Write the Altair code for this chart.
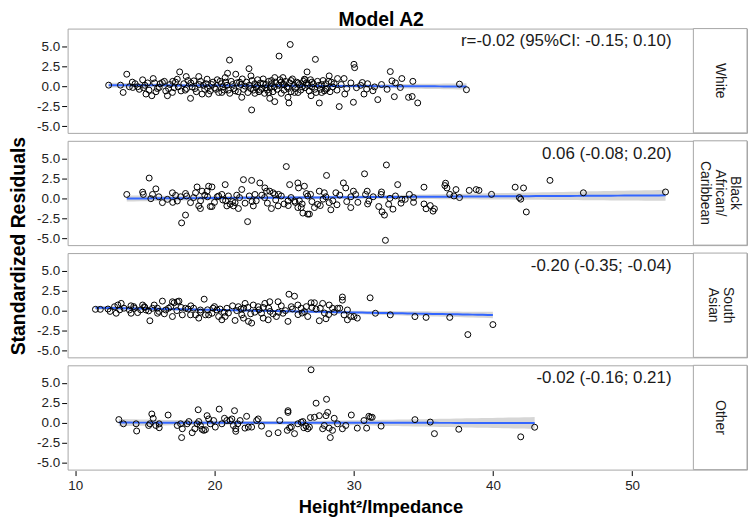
import altair as alt
import numpy as np
import pandas as pd

# ---------------- data ----------------
groups = ["White", "Black African/Caribbean", "South Asian", "Other"]
strip_labels = ["White", "Black\nAfrican/\nCaribbean", "South\nAsian", "Other"]
annotations = [
    "r=-0.02 (95%CI: -0.15; 0.10)",
    "0.06 (-0.08; 0.20)",
    "-0.20 (-0.35; -0.04)",
    "-0.02 (-0.16; 0.21)",
]
x_ticks = [10, 20, 30, 40, 50]
y_ticks = [-5.0, -2.5, 0.0, 2.5, 5.0]

white_pts = [
    (12.40, 0.12), (13.25, 0.12), (13.70, 1.49), (13.44, -0.79), (13.89, -0.08), (14.13, -0.17),
    (14.48, -0.08), (14.84, 0.79), (15.08, -0.99), (15.50, -1.20), (15.60, 0.95), (16.03, -0.17),
    (16.26, 0.45), (16.62, -1.20), (16.98, -0.79), (17.50, 1.78), (17.33, 0.87), (17.97, 1.20),
    (18.28, -1.53), (18.52, 0.66), (18.87, 1.20), (19.11, -0.99), (19.47, 0.87), (19.58, -0.99),
    (21.08, 3.26), (20.94, 1.61), (20.77, 1.07), (21.53, 1.49), (20.53, -0.79), (21.96, -1.40),
    (22.48, 2.19), (22.67, -2.98), (22.62, 1.28), (23.97, -1.53), (24.33, -1.94), (24.64, 3.76),
    (24.33, 1.07), (24.92, 1.07), (25.44, 5.21), (25.28, -1.40), (25.35, -2.11), (25.75, -0.79),
    (26.65, 1.78), (27.25, 3.35), (26.46, 0.87), (26.94, -1.20), (27.53, -2.11), (28.24, 1.28),
    (28.84, 0.95), (28.96, -2.56), (29.31, 0.95), (29.36, -0.99), (29.98, -2.02), (30.02, 2.73),
    (30.07, 2.31), (30.62, 0.45), (30.74, -0.99), (30.93, -0.37), (31.38, -0.58), (31.73, -1.69),
    (32.63, 1.82), (32.75, 0.66), (32.92, -1.32), (33.46, 0.95), (33.35, -0.17), (33.94, -1.40),
    (34.25, 0.60), (34.20, -1.30), (34.60, -2.10), (37.60, 0.25), (38.10, -0.45),
    (14.3, 0.3), (14.6, -0.4), (15.0, 0.1), (15.3, -0.5), (15.7, 0.4), (15.9, -0.3), (16.4, 0.6),
    (16.5, -0.6), (16.8, 0.2), (17.1, -0.2), (17.2, 0.5), (17.6, -0.6), (17.8, 0.3), (18.0, -0.3),
    (18.1, 0.7), (18.4, -0.1), (18.7, -0.7), (18.9, 0.2), (19.0, 0.6), (19.3, -0.4), (19.4, 0.3),
    (19.7, -0.6), (19.9, 0.5), (20.0, -0.2), (20.2, 0.8), (20.3, -0.8), (20.5, 0.3), (20.7, -0.5),
    (20.9, 0.1), (21.1, -0.9), (21.2, 0.6), (21.4, -0.3), (21.6, 0.4), (21.7, -0.7), (21.9, 0.2),
    (22.0, 0.9), (22.1, -0.4), (22.3, 0.5), (22.4, -0.8), (22.5, 0.1), (22.7, 0.7), (22.8, -0.5),
    (22.9, 0.3), (23.0, -0.1), (23.1, 0.8), (23.2, -0.7), (23.3, 0.4), (23.4, -0.3), (23.5, 0.9),
    (23.6, -0.9), (23.7, 0.2), (23.8, -0.5), (23.9, 0.6), (24.0, -0.2), (24.1, 0.3), (24.2, -0.7),
    (24.4, 0.5), (24.5, -0.4), (24.7, 0.8), (24.8, -0.9), (24.9, 0.2), (25.0, -0.5), (25.1, 0.6),
    (25.2, -0.1), (25.4, 0.4), (25.5, -0.7), (25.6, 0.9), (25.8, -0.3), (25.9, 0.5), (26.0, -0.8),
    (26.1, 0.2), (26.2, -0.5), (26.4, 0.6), (26.5, -0.2), (26.6, 0.4), (26.8, -0.6), (26.9, 0.8),
    (27.0, -0.1), (27.1, 0.3), (27.3, -0.8), (27.4, 0.6), (27.6, -0.4), (27.7, 0.2), (27.8, 0.7),
    (27.9, -0.6), (28.0, 0.3), (28.1, -0.3), (28.3, -0.7), (28.4, 0.5), (28.5, -0.1),
    (14.1, 0.5), (14.9, -0.2), (15.2, 0.4), (15.8, -0.7), (16.1, 0.3), (16.7, -0.3), (17.0, 0.6),
    (17.4, -0.1), (17.9, -0.5), (18.3, 0.4), (18.6, -0.3), (19.2, 0.1), (19.5, -0.2), (19.8, 0.2),
    (20.1, -0.4), (20.4, 0.6), (20.6, -0.1), (20.8, 0.5), (21.0, -0.5), (21.3, 0.2), (21.5, -0.6),
    (21.8, 0.5), (22.2, 0.0), (22.6, -0.3), (22.9, -0.9), (23.1, 0.1), (23.3, -0.5), (23.5, 0.3),
    (23.7, -0.2), (23.9, -0.8), (24.1, 0.7), (24.3, -0.1), (24.6, 0.1), (24.8, 0.5), (25.0, 0.2),
    (25.3, -0.3), (25.5, 0.7), (25.7, 0.1), (26.0, 0.4), (26.3, -0.1), (26.5, 0.8), (26.7, 0.1),
    (27.0, 0.5), (27.2, -0.4), (27.5, 0.1), (27.7, -0.8), (28.0, -0.4), (28.2, 0.6), (28.6, 0.3),
    (28.8, -0.5), (29.1, 0.2), (29.5, -0.3), (29.8, 0.4), (30.2, -0.2), (30.5, 0.1), (31.0, 0.3),
    (31.5, -0.1), (32.0, 0.2), (32.4, -0.4), (33.0, 0.4),
]

black_pts = [
    (13.70, 0.49), (15.31, 2.54), (14.84, 0.78), (14.89, 0.49), (15.55, 0.49), (15.79, 1.19),
    (15.43, -0.04), (16.26, -0.53), (16.62, -0.12), (16.98, 0.70), (17.21, 0.37), (17.33, -0.33),
    (17.57, 0.20), (17.64, -3.07), (17.92, -2.09), (17.92, 0.61), (18.28, -0.53), (18.64, 0.70),
    (18.75, 1.43), (18.87, -0.94), (18.99, -1.27), (19.11, 0.90), (19.47, 0.90), (19.58, 1.52),
    (19.82, 1.43), (19.70, -1.02), (19.82, -1.02), (20.30, 0.29), (20.53, 0.49), (20.77, 1.72),
    (20.89, -0.94), (21.13, -0.74), (21.36, -0.94), (21.48, -0.53), (21.72, -1.27), (22.08, 2.34),
    (22.67, 2.25), (21.96, 1.11), (22.38, -2.91), (22.79, -0.94), (22.91, 0.49), (23.26, 1.93),
    (23.62, 1.31), (23.74, 0.90), (23.97, 0.90), (24.21, 0.70), (24.09, -1.27), (24.57, -0.94),
    (24.33, 0.49), (25.16, 3.98), (25.40, 1.72), (25.99, 1.93), (26.04, 1.31), (26.46, 1.52),
    (25.28, -0.33), (25.75, -0.33), (25.99, -1.15), (26.23, -1.15), (26.35, -1.84), (26.70, -1.97),
    (26.82, -1.97), (26.70, 0.29), (27.18, -1.15), (27.41, -0.74), (27.53, 0.90), (27.89, 0.70),
    (28.05, 2.87), (28.24, -0.53), (28.36, -1.43), (28.72, 0.70), (29.26, 1.93), (29.43, 1.31),
    (29.79, -1.15), (29.98, 0.90), (30.14, 0.49), (30.78, 3.07), (30.97, 0.90), (30.85, 0.49),
    (31.09, -0.33), (31.80, -1.02), (31.97, 0.49), (32.04, -1.68), (32.21, -2.09), (32.35, 4.18),
    (32.51, -0.74), (32.82, -1.35), (33.16, 1.72), (32.28, -5.25), (33.46, -0.12), (33.70, -0.12),
    (35.05, 1.40), (35.05, -0.70), (35.20, -1.30), (35.50, -0.90), (35.80, -1.30), (35.70, -1.60),
    (34.30, -0.50), (34.30, 0.10), (36.60, 1.90), (36.55, 1.60), (36.70, 1.30), (36.90, 0.50),
    (37.35, 1.10), (37.20, 0.30), (37.60, 0.10), (38.30, 1.00), (38.80, 1.10), (39.00, 1.00),
    (39.90, 0.50), (41.60, 1.40), (42.20, 1.30), (41.90, 0.10), (42.00, -0.10), (42.40, -1.70),
    (44.10, 2.25), (46.50, 0.70), (52.40, 0.80),
    (18.5, 0.1), (19.0, -0.3), (19.3, 0.4), (20.0, -0.5), (20.2, 0.2), (20.6, -0.2), (21.0, 0.3),
    (21.3, -0.4), (21.8, 0.1), (22.2, -0.6), (22.5, 0.3), (23.0, -0.3), (23.4, 0.4), (23.8, -0.6),
    (24.4, -0.2), (24.8, 0.3), (25.0, -0.7), (25.5, 0.1), (25.8, -0.5), (26.3, -0.7), (26.6, 0.6),
    (27.0, -0.4), (27.6, -0.9), (28.0, 0.2), (28.5, -0.3), (29.0, 0.4), (29.5, -0.4), (30.3, -0.5),
    (31.4, 0.2), (33.0, 0.3),
    (16.0, 0.2), (17.0, -0.5), (18.0, 0.3), (19.5, 0.2), (20.8, -0.3), (21.6, 0.4), (22.7, -0.4),
    (23.6, 0.1), (24.6, 0.5), (25.3, -0.9), (26.1, -0.3), (26.9, 0.5), (27.8, -0.1), (28.8, -0.8),
    (29.8, 0.2), (31.0, -0.7), (32.0, 0.8), (32.6, 0.0), (33.4, -0.6), (34.0, 0.5),
]

south_asian_pts = [
    (11.45, 0.16), (11.80, 0.16), (12.35, 0.20), (12.82, 0.49), (12.94, -0.33), (13.06, 0.70),
    (13.30, 0.90), (13.89, 0.08), (14.01, -0.33), (14.25, 0.29), (14.48, -0.25), (14.84, 0.70),
    (14.96, 0.49), (15.08, 0.08), (15.27, -0.04), (15.36, -1.27), (15.55, 0.29), (15.67, 0.70),
    (15.91, -0.33), (16.26, 1.19), (16.50, 0.08), (16.86, 0.49), (16.98, 1.11), (17.10, 0.98),
    (17.33, 1.11), (17.45, 1.19), (16.98, -0.74), (17.69, -0.53), (17.92, 0.29), (18.28, -0.53),
    (18.64, -0.53), (18.87, -0.94), (18.99, 0.08), (19.26, 1.43), (19.35, -0.53), (19.58, -0.53),
    (19.82, -0.33), (20.18, 0.08), (20.30, -0.74), (20.53, -1.15), (20.77, -0.74), (20.89, 0.29),
    (21.48, -1.23), (21.72, 0.49), (21.96, -0.53), (22.08, -0.94), (22.20, 0.90), (22.44, -1.35),
    (22.67, -1.56), (22.79, 0.70), (23.14, 0.49), (23.38, -0.33), (23.50, -0.94), (23.62, 0.90),
    (23.86, -1.15), (23.97, 1.11), (24.45, -0.74), (24.57, 1.11), (24.92, -0.33), (25.28, -1.35),
    (25.35, 2.05), (25.75, 1.80), (25.52, 0.49), (25.99, 0.70), (26.23, 0.29), (26.46, -0.12),
    (26.70, -0.74), (26.94, 0.98), (27.18, 0.98), (27.53, -1.27), (27.77, 0.90), (28.01, -1.02),
    (28.24, 0.70), (28.48, 0.29), (28.84, 0.29), (29.19, 1.70), (29.19, 1.31), (29.31, -0.53),
    (29.55, -1.15), (29.79, -0.74), (30.02, -0.74), (30.26, -0.94), (29.55, 0.08), (31.18, 1.60),
    (31.56, -0.33), (32.63, -0.53), (34.40, -0.75), (35.20, -0.85), (36.90, -0.85), (38.20, -3.00),
    (40.00, -1.75),
    (13.5, 0.3), (14.2, 0.5), (14.7, 0.1), (15.9, 0.3), (16.4, -0.4), (17.6, 0.4), (18.1, 0.2),
    (18.5, 0.3), (19.0, -0.2), (19.9, 0.3), (20.4, 0.2), (21.0, -0.3), (21.3, 0.6), (21.9, 0.2),
    (22.4, 0.4), (22.9, -0.2), (23.2, 0.1), (23.9, 0.3), (24.2, -0.4), (24.8, 0.6), (25.1, 0.0),
    (26.0, -0.5), (26.6, 0.5), (27.3, 0.2), (27.9, -0.3), (28.6, -0.2),
    (12.5, -0.1), (13.2, 0.1), (14.0, 0.6), (15.0, 0.4), (16.0, -0.1), (16.7, 0.3), (17.3, 0.0),
    (18.3, 0.6), (19.5, 0.1), (20.0, 0.5), (20.7, -0.2), (21.6, 0.0), (22.1, 0.3), (22.6, -0.4),
    (23.5, 0.4), (24.0, -0.1), (24.6, -0.2), (25.6, 0.2), (26.3, -0.3), (27.0, 0.4), (27.6, 0.3),
    (28.2, -0.5), (29.0, 0.3),
]

other_pts = [
    (13.13, 0.41), (13.46, -0.12), (14.37, -0.12), (14.41, -1.02), (15.27, -0.33), (15.36, -0.12),
    (15.50, 1.11), (15.60, 0.57), (15.79, -0.33), (16.03, -0.61), (16.03, -0.12), (16.67, 0.98),
    (17.33, -0.33), (17.57, -0.12), (17.64, -1.84), (17.69, -0.74), (18.04, -0.12), (18.16, 0.16),
    (18.40, -1.23), (18.59, -0.74), (18.75, -0.12), (18.83, 1.64), (18.87, 0.16), (18.99, -0.33),
    (19.11, -0.82), (19.23, -0.94), (19.35, -0.86), (19.47, 0.90), (19.58, 0.49), (19.70, -0.12),
    (19.94, 0.29), (20.06, -0.53), (20.34, 1.72), (20.53, -0.12), (20.72, 0.57), (20.89, 0.29),
    (21.13, 0.29), (21.25, 0.49), (21.36, -0.33), (21.44, 1.52), (21.53, -1.06), (21.53, -0.74),
    (21.67, -0.12), (21.84, 0.29), (22.19, -0.66), (22.31, 0.82), (22.43, -0.53), (22.67, -0.53),
    (23.03, 0.29), (23.14, 0.49), (23.38, -0.41), (23.90, -1.35), (24.57, -1.23), (24.69, 0.29),
    (25.28, 1.52), (25.28, 1.31), (25.23, -0.94), (25.40, -0.61), (25.52, -0.53), (25.75, -1.35),
    (25.99, -0.12), (26.23, 0.08), (26.35, 0.16), (26.42, -0.61), (26.58, -0.41), (26.70, -0.74),
    (26.82, -0.53), (26.94, 6.64), (26.89, 0.66), (27.30, 2.46), (27.18, 0.70), (27.53, 0.90),
    (27.77, -0.74), (27.89, -0.33), (28.05, 2.95), (28.01, 0.90), (28.13, 1.31), (28.24, -0.66),
    (28.32, -1.84), (28.48, -0.94), (28.60, 0.57), (28.84, -0.12), (29.19, -0.74), (29.43, -0.33),
    (29.83, 0.98), (30.26, -0.66), (30.93, -0.66), (30.74, 0.29), (31.09, 0.82), (31.21, 0.70),
    (31.33, 0.70), (31.97, -0.41), (34.40, 0.40), (35.50, 0.10), (35.80, -1.35), (37.55, -0.80),
    (42.00, -1.75), (43.00, -0.55),
]

group_points = [white_pts, black_pts, south_asian_pts, other_pts]
y_title = "Standardized Residuals"
x_title = "Height²/Impedance"
main_title = "Model A2"

# ---------------- table for the chart ----------------
rows = []
for g, lab, ann, pts in zip(groups, strip_labels, annotations, group_points):
    arr = np.array(pts, dtype=float)
    xs, ys = arr[:, 0], arr[:, 1]
    for xv, yv in pts:
        rows.append({"group": g, "kind": "pt", "x": xv, "y": yv})
    # linear fit with 95% confidence band (as geom_smooth(method="lm"))
    n = len(xs)
    b, a = np.polyfit(xs, ys, 1)
    resid = ys - (a + b * xs)
    s = np.sqrt(np.sum(resid ** 2) / (n - 2))
    sxx = np.sum((xs - xs.mean()) ** 2)
    grid = np.linspace(xs.min(), xs.max(), 80)
    fit = a + b * grid
    se = s * np.sqrt(1.0 / n + (grid - xs.mean()) ** 2 / sxx)
    for gx, fv, sv in zip(grid, fit, se):
        rows.append({"group": g, "kind": "fit", "x": gx, "fit": fv,
                     "lo": fv - 1.97 * sv, "hi": fv + 1.97 * sv})
    rows.append({"group": g, "kind": "lab", "label": lab, "ann": ann,
                 "nlines": lab.count("\n") + 1})

df = pd.DataFrame(rows)

# ---------------- layout ----------------
W_PLOT = 630
W_STRIP = 54
H = 105
SPACING = 6
LH = 15
FONT = "Liberation Sans, Arial, Helvetica, sans-serif"

x_scale = alt.Scale(domain=[9.45, 54.4], range=[0, W_PLOT], nice=False, zero=False)
y_scale = alt.Scale(domain=[-5.85, 7.2], nice=False, zero=False)

x_axis = alt.Axis(values=x_ticks, domain=False, grid=False, ticks=True, tickColor="black",
                  tickSize=5, labelFontSize=13.5, labelColor="#222222", labelFont=FONT,
                  labelPadding=3, title=x_title, titleFontSize=18.5,
                  titleFontWeight="bold", titleFont=FONT, titleColor="black", titlePadding=6)
y_axis = alt.Axis(values=y_ticks, domain=False, grid=False, ticks=True, tickColor="black",
                  tickSize=5, labelFontSize=13.5, labelColor="#222222", labelFont=FONT,
                  labelPadding=2, title=None,
                  labelExpr="datum.value < 0 ? '-' + format(-datum.value, '.1f') : format(datum.value, '.1f')")

X = alt.X("x:Q", scale=x_scale, axis=x_axis)

base = alt.Chart()

band = base.transform_filter("datum.kind == 'fit'").mark_area(
    color="#999999", opacity=0.4).encode(
    x=X, y=alt.Y("lo:Q", scale=y_scale, axis=y_axis), y2="hi:Q")

line = base.transform_filter("datum.kind == 'fit'").mark_line(
    color="#3366FF", strokeWidth=2).encode(
    x=X, y=alt.Y("fit:Q", scale=y_scale, axis=y_axis))

points = base.transform_filter("datum.kind == 'pt'").mark_point(
    shape="circle", filled=False, color="black", size=36, strokeWidth=1, opacity=1).encode(
    x=X, y=alt.Y("y:Q", scale=y_scale, axis=y_axis))

strip = base.transform_filter("datum.kind == 'lab'").mark_rect(
    fill="white", stroke="#a6a6a6", strokeWidth=1).encode(
    x=alt.value(W_PLOT), x2=alt.value(W_PLOT + W_STRIP), y=alt.value(0), y2=alt.value(H))

strip_texts = []
for k in (1, 2, 3):
    strip_texts.append(
        base.transform_filter(f"datum.kind == 'lab' && datum.nlines == {k}").mark_text(
            angle=90, fontSize=14, font=FONT, color="#1a1a1a", lineBreak="\n",
            lineHeight=LH, align="center", baseline="middle").encode(
            x=alt.value(W_PLOT + W_STRIP / 2 + (k - 1) * LH / 2),
            y=alt.value(H / 2), text="label:N"))

ann = base.transform_filter("datum.kind == 'lab'").mark_text(
    align="right", baseline="middle", fontSize=17, font=FONT, color="#1a1a1a").encode(
    x=alt.value(W_PLOT - 22), y=alt.value(13), text="ann:N")

panel = alt.layer(band, line, points, strip, *strip_texts, ann).properties(
    width=W_PLOT + W_STRIP, height=H)

facets = panel.facet(
    row=alt.Row("group:N", sort=groups, header=alt.Header(labels=False, title=None)),
    data=df,
    spacing=SPACING,
)

panels_h = 4 * H + 3 * SPACING
ytitle = alt.Chart(pd.DataFrame({"t": [y_title]})).mark_text(
    angle=270, fontSize=19.5, fontWeight="bold", font=FONT, color="black",
    align="center", baseline="middle").encode(
    x=alt.value(7), y=alt.value(panels_h / 2), text="t:N").properties(
    width=15, height=panels_h, view=alt.ViewBackground(stroke="transparent"))

chart = alt.hconcat(ytitle, facets, spacing=6).properties(
    title=alt.TitleParams(main_title, fontSize=19.5, fontWeight="bold", font=FONT,
                          color="black", anchor="middle", offset=-3, dx=3),
    padding={"left": 0, "top": 0, "right": 0, "bottom": 0},
).configure_view(stroke="#a6a6a6", strokeWidth=1, fill="white")

chart.save("out.html", embed_options={"renderer": "svg", "actions": False})
